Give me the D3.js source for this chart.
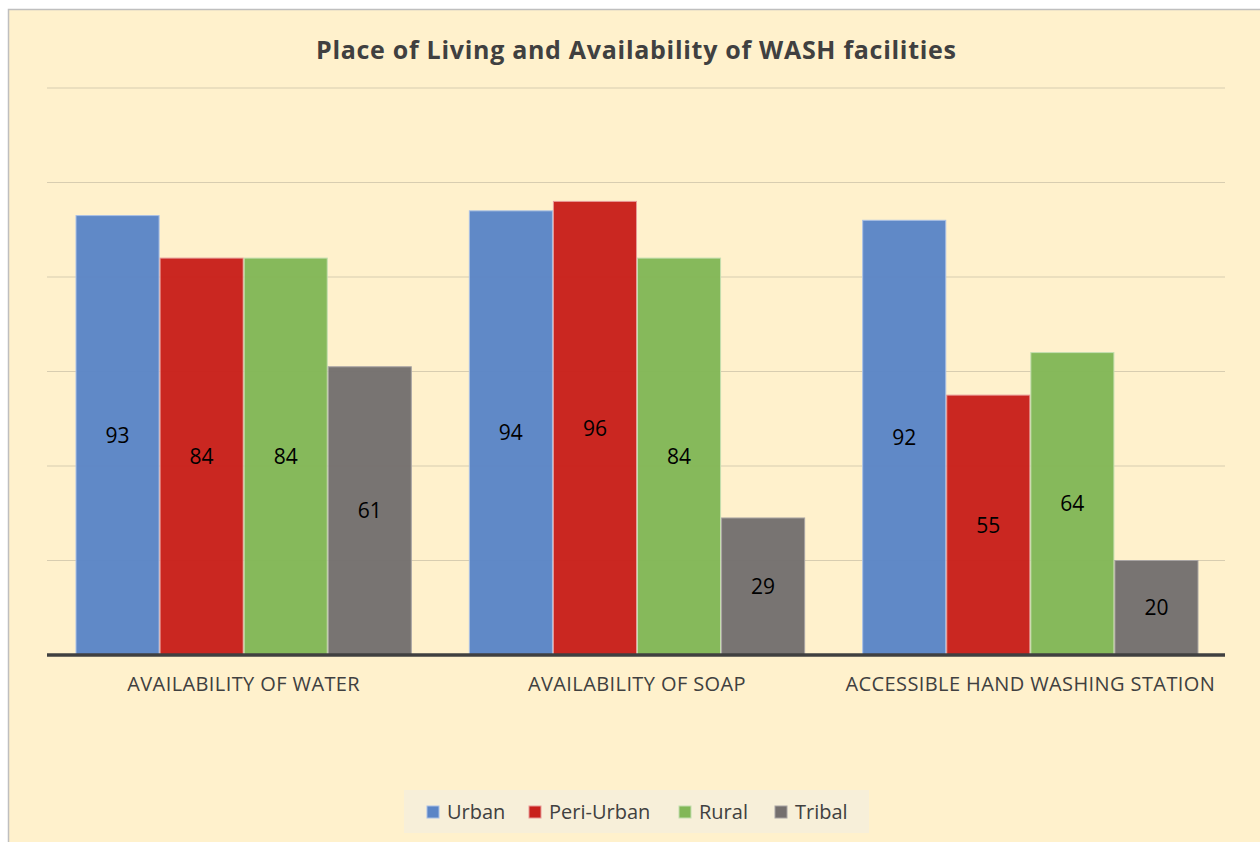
<!DOCTYPE html>
<html>
<head>
<meta charset="utf-8">
<script src="https://cdn.jsdelivr.net/npm/d3@7"></script>
<style>
  html, body { margin: 0; padding: 0; background: #ffffff; }
  svg { display: block; }
</style>
</head>
<body>
<svg id="chart" width="1260" height="842"></svg>
<script>
const categories = ["AVAILABILITY OF WATER", "AVAILABILITY OF SOAP", "ACCESSIBLE HAND WASHING STATION"];
const seriesNames = ["Urban", "Peri-Urban", "Rural", "Tribal"];
const urban = [93, 94, 92];
const periUrban = [84, 96, 55];
const rural = [84, 84, 64];
const tribal = [61, 29, 20];
const yTicks = [0, 20, 40, 60, 80, 100, 120];
const colors = ["#5b85c6", "#c8201b", "#82b757", "#746f6e"];
const strokes = ["#a9c0e6", "#e79a98", "#c4deb0", "#a8a4a3"];

const seriesValues = [urban, periUrban, rural, tribal];
const data = categories.map((c, i) => ({
  category: c,
  values: seriesNames.map((s, j) => ({ series: s, value: seriesValues[j][i], idx: j }))
}));

const svg = d3.select("#chart");
const W = 1260, H = 842;

svg.append("rect").attr("x", 8.5).attr("y", 9.5).attr("width", W).attr("height", H)
  .attr("fill", "#fff1cc").attr("stroke", "#bfbfbf").attr("stroke-width", 1.5);

const margin = { left: 47, right: 1227, top: 88, bottom: 655 };

const x0 = d3.scaleBand().domain(categories).range([margin.left, margin.right])
  .paddingInner(0.145).paddingOuter(0.0725);
const x1 = d3.scaleBand().domain(seriesNames).range([0, x0.bandwidth()]).padding(0);
const y = d3.scaleLinear().domain([0, 120]).range([margin.bottom, margin.top]);

svg.append("g").selectAll("line").data(yTicks.filter(d => d > 0)).join("line")
  .attr("x1", margin.left).attr("x2", 1225)
  .attr("y1", d => y(d)).attr("y2", d => y(d))
  .attr("stroke", "#d8cdb0").attr("stroke-width", 1.2);

const groups = svg.append("g").selectAll("g").data(data).join("g")
  .attr("transform", d => `translate(${x0(d.category)},0)`);

groups.selectAll("rect").data(d => d.values).join("rect")
  .attr("x", d => x1(d.series) + 0.5)
  .attr("y", d => y(d.value))
  .attr("width", x1.bandwidth() - 1)
  .attr("height", d => y(0) - y(d.value))
  .attr("fill", d => colors[d.idx])
  .attr("fill-opacity", 0.97)
  .attr("stroke", d => strokes[d.idx])
  .attr("stroke-width", 1);

groups.selectAll("text").data(d => d.values).join("text")
  .attr("x", d => x1(d.series) + x1.bandwidth() / 2)
  .attr("y", d => (y(d.value) + y(0)) / 2)
  .attr("dy", "0.36em")
  .attr("text-anchor", "middle")
  .attr("font-family", "Open Sans, sans-serif")
  .attr("font-size", 21)
  .attr("fill", "#000")
  .text(d => d.value);

const xAxis = d3.axisBottom(x0).tickSize(0).tickPadding(22);
const ax = svg.append("g").attr("transform", `translate(0,${margin.bottom})`).call(xAxis);
ax.select(".domain").attr("d", `M${margin.left},0H1225`).attr("stroke", "#404040").attr("stroke-width", 3.5);
ax.selectAll("text")
  .attr("font-family", "Open Sans, sans-serif")
  .attr("font-size", 20)
  .attr("letter-spacing", "0.4px")
  .attr("fill", "#404040");

svg.append("text").attr("x", 636).attr("y", 59)
  .attr("text-anchor", "middle")
  .attr("font-family", "Open Sans, sans-serif")
  .attr("font-weight", "bold")
  .attr("font-size", 25)
  .attr("fill", "#404040")
  .attr("textLength", 640)
  .text("Place of Living and Availability of WASH facilities");

const lg = svg.append("g");
lg.append("rect").attr("x", 404).attr("y", 790).attr("width", 465).attr("height", 43)
  .attr("fill", "#f7efd9");
const legendX = [427, 529, 679, 775];
seriesNames.forEach((s, i) => {
  lg.append("rect").attr("x", legendX[i]).attr("y", 806).attr("width", 12).attr("height", 12)
    .attr("fill", colors[i]).attr("stroke", strokes[i]).attr("stroke-width", 1);
  lg.append("text").attr("x", legendX[i] + 20).attr("y", 812).attr("dy", "0.36em")
    .attr("font-family", "Open Sans, sans-serif").attr("font-size", 20)
    .attr("fill", "#404040").text(s);
});
</script>
</body>
</html>
